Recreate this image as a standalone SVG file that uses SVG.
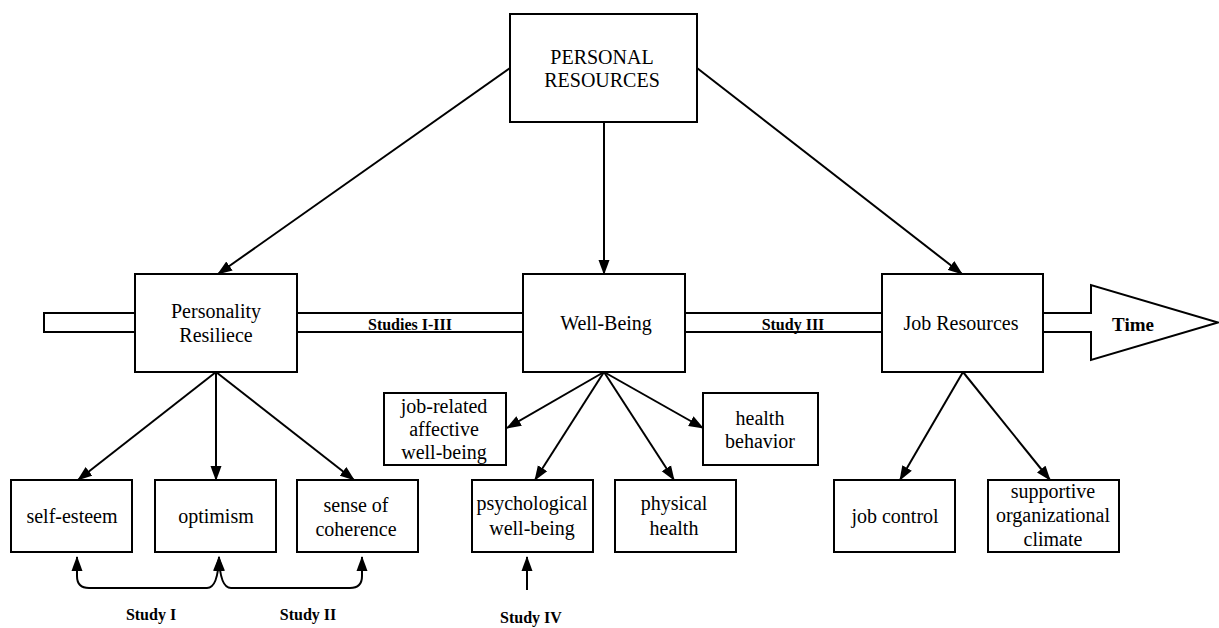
<svg xmlns="http://www.w3.org/2000/svg" width="1219" height="628" viewBox="0 0 1219 628">
<style>
.box{fill:#fff;stroke:#000;stroke-width:2}
.t{font-family:"Liberation Serif","Times New Roman",serif;font-size:20px;fill:#000;text-anchor:middle}
.b{font-family:"Liberation Serif","Times New Roman",serif;font-size:16px;font-weight:bold;fill:#000;text-anchor:middle}
.ar{fill:none;stroke:#000;stroke-width:2;marker-end:url(#ah)}
.band{fill:none;stroke:#000;stroke-width:2}
</style>
<defs>
<marker id="ah" markerUnits="userSpaceOnUse" markerWidth="16" markerHeight="12" refX="14" refY="6" orient="auto-start-reverse" viewBox="0 0 16 12">
<path d="M0,0.5 L15,6 L0,11.5 z" fill="#000"/>
</marker>
</defs>
<rect width="1219" height="628" fill="#fff"/>
<g id="time-band">
<path class="band" d="M135,313 H44 V332 H135 M297,313 H523 M297,332 H523 M685,313 H882 M685,332 H882"/>
<path class="band" d="M1043,313 H1091 V285 L1218,322.5 L1091,360 V332 H1043"/>
<text class="b" x="1133" y="331" style="font-size:19px">Time</text>
<text class="b" x="410" y="330">Studies I-III</text>
<text class="b" x="793" y="330">Study III</text>
</g>
<g id="connectors">
<line class="ar" x1="510" y1="68" x2="218" y2="274"/>
<line class="ar" x1="604" y1="122" x2="604" y2="274"/>
<line class="ar" x1="697" y1="68" x2="962" y2="274"/>
<line class="ar" x1="216" y1="372" x2="78" y2="480"/>
<line class="ar" x1="216" y1="372" x2="216" y2="480"/>
<line class="ar" x1="216" y1="372" x2="354" y2="480"/>
<line class="ar" x1="604" y1="372" x2="507" y2="428"/>
<line class="ar" x1="604" y1="372" x2="535" y2="480"/>
<line class="ar" x1="604" y1="372" x2="674" y2="480"/>
<line class="ar" x1="604" y1="372" x2="703" y2="428"/>
<line class="ar" x1="963" y1="372" x2="900" y2="480"/>
<line class="ar" x1="963" y1="372" x2="1050" y2="480"/>
<path class="ar" style="marker-start:url(#ah)" d="M77,557 L77,576 Q77,588 89,588 L207,588 Q218,588 219,557"/>
<path class="ar" style="marker-start:url(#ah)" d="M219,557 Q220,588 231,588 L350,588 Q362,588 362,576 L362,557"/>
<line class="ar" x1="527" y1="590" x2="527" y2="557"/>
</g>
<g id="personal-resources">
<rect class="box" x="510" y="14" width="187" height="108"/>
<text class="t" x="602" y="64">PERSONAL</text>
<text class="t" x="602" y="87">RESOURCES</text>
</g>
<g id="personality-resilience">
<rect class="box" x="135" y="274" width="162" height="98"/>
<text class="t" x="216" y="318">Personality</text>
<text class="t" x="216" y="342">Resiliece</text>
</g>
<g id="well-being">
<rect class="box" x="523" y="274" width="162" height="98"/>
<text class="t" x="606" y="330">Well-Being</text>
</g>
<g id="job-resources">
<rect class="box" x="882" y="274" width="161" height="98"/>
<text class="t" x="961" y="330">Job Resources</text>
</g>
<g id="self-esteem">
<rect class="box" x="11" y="480" width="121" height="72"/>
<text class="t" x="72" y="523">self-esteem</text>
</g>
<g id="optimism">
<rect class="box" x="155" y="480" width="121" height="72"/>
<text class="t" x="216" y="523">optimism</text>
</g>
<g id="sense-of-coherence">
<rect class="box" x="297" y="480" width="121" height="72"/>
<text class="t" x="356" y="512">sense of</text>
<text class="t" x="356" y="536">coherence</text>
</g>
<g id="job-related">
<rect class="box" x="384" y="393" width="122" height="72"/>
<text class="t" x="444" y="413">job-related</text>
<text class="t" x="444" y="436">affective</text>
<text class="t" x="444" y="459">well-being</text>
</g>
<g id="health-behavior">
<rect class="box" x="703" y="393" width="115" height="72"/>
<text class="t" x="760" y="425">health</text>
<text class="t" x="760" y="448">behavior</text>
</g>
<g id="psychological">
<rect class="box" x="472" y="480" width="121" height="72"/>
<text class="t" x="532" y="510">psychological</text>
<text class="t" x="532" y="535">well-being</text>
</g>
<g id="physical-health">
<rect class="box" x="615" y="480" width="121" height="72"/>
<text class="t" x="674" y="510">physical</text>
<text class="t" x="674" y="535">health</text>
</g>
<g id="job-control">
<rect class="box" x="834" y="480" width="121" height="72"/>
<text class="t" x="895" y="523">job control</text>
</g>
<g id="supportive">
<rect class="box" x="988" y="480" width="131" height="72"/>
<text class="t" x="1053" y="498">supportive</text>
<text class="t" x="1053" y="522">organizational</text>
<text class="t" x="1053" y="546">climate</text>
</g>
<g id="study-labels">
<text class="b" x="151" y="620">Study I</text>
<text class="b" x="308" y="620">Study II</text>
<text class="b" x="531" y="623">Study IV</text>
</g>
</svg>
